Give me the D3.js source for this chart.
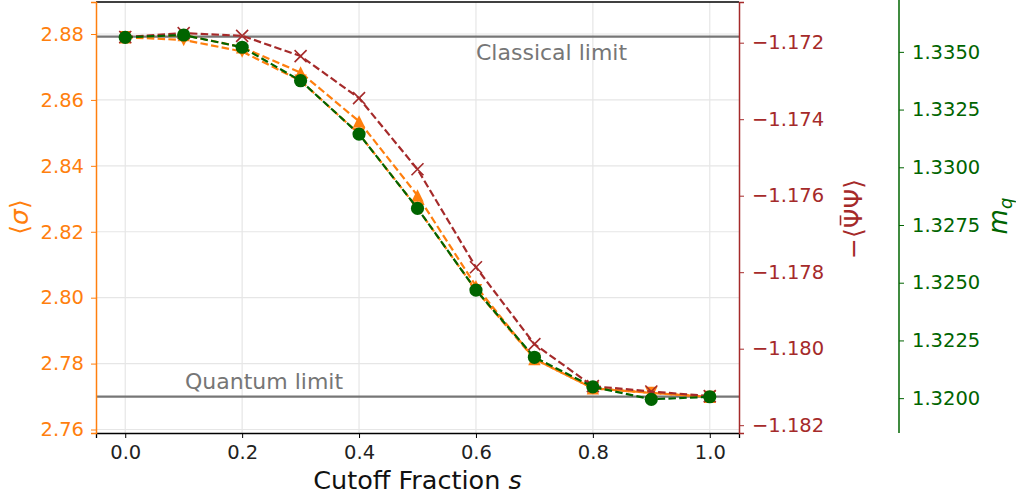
<!DOCTYPE html>
<html>
<head>
<meta charset="utf-8">
<style>
  body { margin: 0; background: #fff; }
  svg text { font-family: "DejaVu Sans", sans-serif; }
  .grid line { stroke: #e6e6e6; stroke-width: 1.2px; }
</style>
</head>
<body>
<div id="chart"></div>
<script src="https://d3js.org/d3.v7.min.js"></script>
<script>
// cutoff fraction s
var cutoff = [0.0, 0.1, 0.2, 0.3, 0.4, 0.5, 0.6, 0.7, 0.8, 0.9, 1.0];
// <sigma>, left axis (two estimates, drawn with up / down triangles)
var sigmaUp = [2.8790, 2.8797, 2.8760, 2.8683, 2.8535, 2.8310, 2.8035, 2.7814, 2.7725, 2.7711, 2.7699];
var sigmaDown = [2.8790, 2.8782, 2.8747, 2.8658, 2.8497, 2.8271, 2.8023, 2.7814, 2.7725, 2.7711, 2.7699];
// -<psibar psi>, middle axis
var condensate = [-1.17185, -1.17175, -1.17182, -1.17235, -1.17345, -1.17531, -1.17787, -1.17988, -1.18098, -1.18112, -1.18124];
// m_q, right axis
var quarkMass = [1.33563, 1.33573, 1.33520, 1.33375, 1.33144, 1.32822, 1.32468, 1.32177, 1.32049, 1.31995, 1.32006];

var xTicks = [0.0, 0.2, 0.4, 0.6, 0.8, 1.0];
var sigmaTicks = [2.76, 2.78, 2.80, 2.82, 2.84, 2.86, 2.88];
var condTicks = [-1.182, -1.180, -1.178, -1.176, -1.174, -1.172];
var massTicks = [1.3200, 1.3225, 1.3250, 1.3275, 1.3300, 1.3325, 1.3350];

var classicalLimit = 2.8792;
var quantumLimit = 2.7700;

var orange = "#ff7f0e", brown = "#a52a2a", green = "#006400", gray = "#767676";

var W = 1016, H = 500;
var pL = 96, pR = 739, pT = 2, pB = 433;

var svg = d3.select("#chart").append("svg")
    .attr("width", W)
    .attr("height", H);

var x = d3.scaleLinear().domain([-0.05, 1.05]).range([pL, pR]);
var ySigma = d3.scaleLinear().domain([2.75894, 2.88971]).range([pB, pT]);
var yCond = d3.scaleLinear().domain([-1.182204, -1.170936]).range([pB, pT]);
var yMass = d3.scaleLinear().domain([1.31849, 1.33716]).range([pB, pT]);

// grid
var grid = svg.append("g").attr("class", "grid");
grid.selectAll(".gx").data(xTicks).enter().append("line")
    .attr("x1", function(d) { return x(d); })
    .attr("x2", function(d) { return x(d); })
    .attr("y1", pT).attr("y2", pB);
grid.selectAll(".gy").data(sigmaTicks).enter().append("line")
    .attr("x1", pL).attr("x2", pR)
    .attr("y1", function(d) { return ySigma(d); })
    .attr("y2", function(d) { return ySigma(d); });

// limits
[classicalLimit, quantumLimit].forEach(function(v) {
  svg.append("line")
    .attr("x1", pL).attr("x2", pR)
    .attr("y1", ySigma(v)).attr("y2", ySigma(v))
    .attr("stroke", gray).attr("stroke-width", 2.2);
});
svg.append("text").attr("x", 476).attr("y", ySigma(classicalLimit) + 23)
    .attr("fill", gray).style("font-size", "22px").text("Classical limit");
svg.append("text").attr("x", 185).attr("y", ySigma(quantumLimit) - 8)
    .attr("fill", gray).style("font-size", "22px").text("Quantum limit");

function series(vals, scale, color) {
  var line = d3.line()
    .x(function(d, i) { return x(cutoff[i]); })
    .y(function(d) { return scale(d); });
  svg.append("path")
    .datum(vals)
    .attr("d", line)
    .attr("fill", "none")
    .attr("stroke", color)
    .attr("stroke-width", 2.2)
    .attr("stroke-dasharray", "7.5,3.3");
}

function triangles(vals, dir) {
  var r = 6.2;
  svg.append("g").selectAll("path").data(vals).enter().append("path")
    .attr("d", function(d, i) {
      var cx = x(cutoff[i]), cy = ySigma(d);
      return "M" + cx + "," + (cy - dir * r) + "L" + (cx - r) + "," + (cy + dir * r) +
             "L" + (cx + r) + "," + (cy + dir * r) + "Z";
    })
    .attr("fill", orange);
}

// orange: sigma
series(sigmaDown, ySigma, orange);
series(sigmaUp, ySigma, orange);
triangles(sigmaDown, -1);
triangles(sigmaUp, 1);

// brown: condensate, x markers
series(condensate, yCond, brown);
var s = 6;
svg.append("g").selectAll("path").data(condensate).enter().append("path")
    .attr("d", function(d, i) {
      var cx = x(cutoff[i]), cy = yCond(d);
      return "M" + (cx - s) + "," + (cy - s) + "L" + (cx + s) + "," + (cy + s) +
             "M" + (cx - s) + "," + (cy + s) + "L" + (cx + s) + "," + (cy - s);
    })
    .attr("stroke", brown).attr("stroke-width", 1.6).attr("fill", "none");

// green: quark mass, circles
series(quarkMass, yMass, green);
svg.append("g").selectAll("circle").data(quarkMass).enter().append("circle")
    .attr("cx", function(d, i) { return x(cutoff[i]); })
    .attr("cy", function(d) { return yMass(d); })
    .attr("r", 6.6)
    .attr("fill", green);

// axes
var fs = "19.5px";
var gx = svg.append("g").attr("transform", "translate(0," + pB + ")")
    .call(d3.axisBottom(x).tickValues(xTicks).tickFormat(d3.format(".1f")).tickSize(5).tickPadding(7));
gx.select(".domain").attr("stroke", "#000").attr("stroke-width", 1.3);
gx.selectAll("text").style("font-size", fs).attr("fill", "#222");

svg.append("line").attr("x1", pL).attr("x2", pR).attr("y1", pT).attr("y2", pT)
    .attr("stroke", "#000").attr("stroke-width", 1.3);

var gl = svg.append("g").attr("transform", "translate(" + pL + ",0)")
    .call(d3.axisLeft(ySigma).tickValues(sigmaTicks).tickFormat(d3.format(".2f")).tickSize(5).tickPadding(7));
gl.select(".domain").attr("stroke", orange).attr("stroke-width", 1.5);
gl.selectAll(".tick line").attr("stroke", orange);
gl.selectAll("text").style("font-size", fs).attr("fill", orange);

var gr = svg.append("g").attr("transform", "translate(" + pR + ",0)")
    .call(d3.axisRight(yCond).tickValues(condTicks).tickFormat(d3.format(".3f")).tickSize(5).tickPadding(8));
gr.select(".domain").attr("stroke", brown).attr("stroke-width", 1.5);
gr.selectAll(".tick line").attr("stroke", brown);
gr.selectAll("text").style("font-size", fs).attr("fill", brown);

var gm = svg.append("g").attr("transform", "translate(899,0)")
    .call(d3.axisRight(yMass).tickValues(massTicks).tickFormat(d3.format(".4f")).tickSize(5).tickPadding(8));
gm.select(".domain").attr("stroke", green).attr("stroke-width", 1.5).attr("d", "M0,0V" + pB);
gm.selectAll(".tick line").attr("stroke", green);
gm.selectAll("text").style("font-size", fs).attr("fill", green);

// axis titles
svg.append("text").attr("x", (pL + pR) / 2).attr("y", 489)
    .attr("text-anchor", "middle").style("font-size", "25.5px").attr("fill", "#111")
    .html("Cutoff Fraction <tspan font-style='italic'>s</tspan>");

svg.append("text").attr("transform", "translate(28,217) rotate(-90)")
    .attr("text-anchor", "middle").style("font-size", "25px").attr("fill", orange)
    .html("\u27e8<tspan font-style='italic'>\u03c3</tspan>\u27e9");

var pg = svg.append("g").attr("transform", "translate(862,219) rotate(-90)");
var pt = pg.append("text")
    .attr("text-anchor", "middle").style("font-size", "25px").attr("fill", brown)
    .text("\u2212\u27e8\u03a8\u03a8\u27e9");
var ext = pt.node().getExtentOfChar(2);
var mid = ext.x + ext.width / 2 - 2;
pg.append("line")
    .attr("x1", mid - 5).attr("x2", mid + 5)
    .attr("y1", -21.5).attr("y2", -21.5)
    .attr("stroke", brown).attr("stroke-width", 1.6);

svg.append("text").attr("transform", "translate(1007,216) rotate(-90)")
    .attr("text-anchor", "middle").style("font-size", "26px").attr("fill", green)
    .html("<tspan font-style='italic'>m</tspan><tspan font-style='italic' font-size='18px' dy='5'>q</tspan>");
</script>
</body>
</html>
